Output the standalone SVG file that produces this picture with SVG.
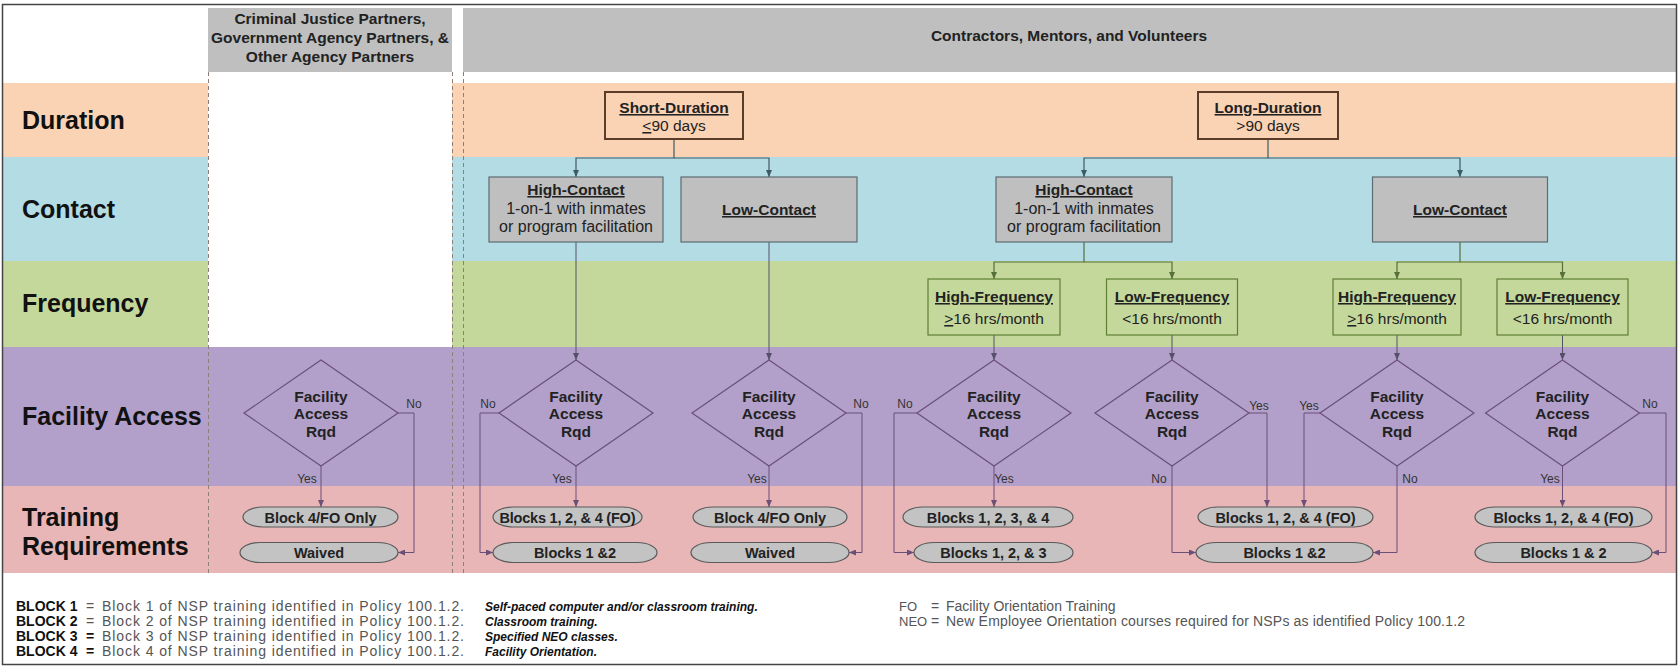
<svg xmlns="http://www.w3.org/2000/svg" width="1679" height="668" viewBox="0 0 1679 668">
<defs>
<marker id="a1" markerUnits="userSpaceOnUse" markerWidth="7" markerHeight="6" refX="7" refY="3" orient="auto"><path d="M0,0 L7,3 L0,6 z" fill="#3e5a64"/></marker>
<marker id="a2" markerUnits="userSpaceOnUse" markerWidth="7" markerHeight="6" refX="7" refY="3" orient="auto"><path d="M0,0 L7,3 L0,6 z" fill="#55703a"/></marker>
<marker id="a3" markerUnits="userSpaceOnUse" markerWidth="7" markerHeight="6" refX="7" refY="3" orient="auto"><path d="M0,0 L7,3 L0,6 z" fill="#55506a"/></marker>
<marker id="a4" markerUnits="userSpaceOnUse" markerWidth="7" markerHeight="6" refX="7" refY="3" orient="auto"><path d="M0,0 L7,3 L0,6 z" fill="#6a4f78"/></marker>
</defs>
<style>
text{font-family:"Liberation Sans",Arial,sans-serif}
.lbl{font-weight:bold;font-size:25px;fill:#111}
.hdr{font-weight:bold;font-size:15.5px;fill:#222;text-anchor:middle}
.nt{font-size:15.5px;fill:#222;text-anchor:middle}
.nr{font-size:16px}
.tt{font-size:14.5px;font-weight:bold;fill:#222;text-anchor:middle}
.b{font-weight:bold}
.u{text-decoration:underline}
.yn{font-size:12px;fill:#333;text-anchor:middle}
.lg{font-size:14px;fill:#555}
.lgs{font-size:13px;fill:#555}
.lgb{font-size:14px;font-weight:bold;fill:#111}
.lgi{font-size:12px;font-weight:bold;font-style:italic;fill:#111}
.dash{stroke:#8c8078;stroke-width:1;stroke-dasharray:4 3;fill:none}
.dur{fill:#FAD3B5;stroke:#5a3c28;stroke-width:2}
.con{fill:#BFBFBF;stroke:#5d6d73;stroke-width:1.2}
.frq{fill:#C4D89B;stroke:#5f7f35;stroke-width:1.2}
.dia{fill:none;stroke:#6a4f78;stroke-width:1.2}
.term{fill:#C3C3C3;stroke:#5a5a5a;stroke-width:1.2}
.c1{stroke:#3e5a64;stroke-width:1.2;fill:none;marker-end:url(#a1)}
.c2{stroke:#55703a;stroke-width:1.2;fill:none;marker-end:url(#a2)}
.c3{stroke:#55506a;stroke-width:1;fill:none;marker-end:url(#a3)}
.c4{stroke:#6a4f78;stroke-width:1;fill:none;marker-end:url(#a4)}
</style>
<rect x="0" y="0" width="1679" height="668" fill="#ffffff"/>
<g id="bands">
<rect x="208" y="8" width="244" height="64" fill="#BFBFBF"/>
<rect x="463" y="8" width="1213" height="64" fill="#BFBFBF"/>
<rect x="3" y="83" width="1673" height="74" fill="#FAD3B5"/>
<rect x="3" y="157" width="1673" height="104" fill="#B4DCE5"/>
<rect x="3" y="261" width="1673" height="86" fill="#C4D89B"/>
<rect x="3" y="347" width="1673" height="139" fill="#B2A0CA"/>
<rect x="3" y="486" width="1673" height="87" fill="#E8B6B6"/>
<rect x="208" y="83" width="244" height="264" fill="#ffffff"/>
<line x1="208.5" y1="72" x2="208.5" y2="573" class="dash"/>
<line x1="452.5" y1="72" x2="452.5" y2="573" class="dash"/>
<line x1="463.5" y1="72" x2="463.5" y2="573" class="dash"/>
<rect x="2.5" y="4.5" width="1674" height="660" fill="none" stroke="#444" stroke-width="1.5"/>
</g>
<g id="headers">
<text class="hdr" x="330" y="24">Criminal Justice Partners,</text>
<text class="hdr" x="330" y="43">Government Agency Partners, &amp;</text>
<text class="hdr" x="330" y="62">Other Agency Partners</text>
<text class="hdr" x="1069" y="41">Contractors, Mentors, and Volunteers</text>
</g>
<g id="row-labels">
<text class="lbl" x="22" y="129">Duration</text>
<text class="lbl" x="22" y="218">Contact</text>
<text class="lbl" x="22" y="312">Frequency</text>
<text class="lbl" x="22" y="425">Facility Access</text>
<text class="lbl" x="22" y="526">Training</text>
<text class="lbl" x="22" y="555">Requirements</text>
</g>
<g id="connectors">
<path class="c1" d="M674,139 V158 H576 V177"/>
<path class="c1" d="M674,158 H769 V177"/>
<path class="c1" d="M1268,139 V158 H1084 V177"/>
<path class="c1" d="M1268,158 H1460 V177"/>
<path class="c2" d="M1084,242 V262 H994 V279"/>
<path class="c2" d="M1084,262 H1172 V279"/>
<path class="c2" d="M1460,242 V262 H1397 V279"/>
<path class="c2" d="M1460,262 H1562.5 V279"/>
<path class="c3" d="M576,242 V360"/>
<path class="c3" d="M769,242 V360"/>
<path class="c3" d="M994,335 V360"/>
<path class="c3" d="M1172,335 V360"/>
<path class="c3" d="M1397,335 V360"/>
<path class="c3" d="M1562.5,335 V360"/>
<path class="c4" d="M321,466 V507"/>
<path class="c4" d="M398,413 H414 V552.5 H398"/>
<path class="c4" d="M576,466 V507"/>
<path class="c4" d="M499,413 H480 V552.5 H493"/>
<path class="c4" d="M769,466 V507"/>
<path class="c4" d="M846,413 H862 V552.5 H849"/>
<path class="c4" d="M994,466 V507"/>
<path class="c4" d="M917,413 H894 V552.5 H914"/>
<path class="c4" d="M1249,413 H1267 V507"/>
<path class="c4" d="M1172,466 V552.5 H1196"/>
<path class="c4" d="M1320,413 H1304 V507"/>
<path class="c4" d="M1397,466 V552.5 H1373"/>
<path class="c4" d="M1562.5,466 V507"/>
<path class="c4" d="M1639.5,413 H1666 V552.5 H1652"/>
<text class="yn" x="414" y="408">No</text>
<text class="yn" x="307" y="483">Yes</text>
<text class="yn" x="488" y="408">No</text>
<text class="yn" x="562" y="483">Yes</text>
<text class="yn" x="861" y="408">No</text>
<text class="yn" x="757" y="483">Yes</text>
<text class="yn" x="905" y="408">No</text>
<text class="yn" x="1004" y="483">Yes</text>
<text class="yn" x="1259" y="410">Yes</text>
<text class="yn" x="1159" y="483">No</text>
<text class="yn" x="1309" y="410">Yes</text>
<text class="yn" x="1410" y="483">No</text>
<text class="yn" x="1650" y="408">No</text>
<text class="yn" x="1550" y="483">Yes</text>
</g>
<g id="short-duration"><rect class="dur" x="605" y="92" width="138" height="47"/><text class="nt b u" x="674" y="113">Short-Duration</text><text class="nt" x="674" y="131"><tspan class="u">&lt;</tspan>90 days</text></g>
<g id="long-duration"><rect class="dur" x="1198" y="92" width="140" height="47"/><text class="nt b u" x="1268" y="113">Long-Duration</text><text class="nt" x="1268" y="131">&gt;90 days</text></g>
<g id="short-high-contact"><rect class="con" x="489" y="177" width="174" height="65"/><text class="nt b u" x="576" y="195">High-Contact</text><text class="nt nr" x="576" y="214">1-on-1 with inmates</text><text class="nt nr" x="576" y="232">or program facilitation</text></g>
<g id="short-low-contact"><rect class="con" x="681" y="177" width="176" height="65"/><text class="nt b u" x="769" y="215">Low-Contact</text></g>
<g id="long-high-contact"><rect class="con" x="996" y="177" width="176" height="65"/><text class="nt b u" x="1084" y="195">High-Contact</text><text class="nt nr" x="1084" y="214">1-on-1 with inmates</text><text class="nt nr" x="1084" y="232">or program facilitation</text></g>
<g id="long-low-contact"><rect class="con" x="1372.5" y="177" width="175" height="65"/><text class="nt b u" x="1460" y="215">Low-Contact</text></g>
<g id="hf-1"><rect class="frq" x="928" y="279" width="132" height="56"/><text class="nt b u" x="994" y="302">High-Frequency</text><text class="nt" x="994" y="324"><tspan class="u">&gt;</tspan>16 hrs/month</text></g>
<g id="lf-1"><rect class="frq" x="1106.5" y="279" width="131" height="56"/><text class="nt b u" x="1172" y="302">Low-Frequency</text><text class="nt" x="1172" y="324">&lt;16 hrs/month</text></g>
<g id="hf-2"><rect class="frq" x="1333" y="279" width="128" height="56"/><text class="nt b u" x="1397" y="302">High-Frequency</text><text class="nt" x="1397" y="324"><tspan class="u">&gt;</tspan>16 hrs/month</text></g>
<g id="lf-2"><rect class="frq" x="1497" y="279" width="131" height="56"/><text class="nt b u" x="1562.5" y="302">Low-Frequency</text><text class="nt" x="1562.5" y="324">&lt;16 hrs/month</text></g>
<g id="d1"><polygon class="dia" points="244,413 321,360 398,413 321,466"/><text class="nt b" x="321" y="402">Facility</text><text class="nt b" x="321" y="419">Access</text><text class="nt b" x="321" y="437">Rqd</text></g>
<g id="d2"><polygon class="dia" points="499,413 576,360 653,413 576,466"/><text class="nt b" x="576" y="402">Facility</text><text class="nt b" x="576" y="419">Access</text><text class="nt b" x="576" y="437">Rqd</text></g>
<g id="d3"><polygon class="dia" points="692,413 769,360 846,413 769,466"/><text class="nt b" x="769" y="402">Facility</text><text class="nt b" x="769" y="419">Access</text><text class="nt b" x="769" y="437">Rqd</text></g>
<g id="d4"><polygon class="dia" points="917,413 994,360 1071,413 994,466"/><text class="nt b" x="994" y="402">Facility</text><text class="nt b" x="994" y="419">Access</text><text class="nt b" x="994" y="437">Rqd</text></g>
<g id="d5"><polygon class="dia" points="1095,413 1172,360 1249,413 1172,466"/><text class="nt b" x="1172" y="402">Facility</text><text class="nt b" x="1172" y="419">Access</text><text class="nt b" x="1172" y="437">Rqd</text></g>
<g id="d6"><polygon class="dia" points="1320,413 1397,360 1474,413 1397,466"/><text class="nt b" x="1397" y="402">Facility</text><text class="nt b" x="1397" y="419">Access</text><text class="nt b" x="1397" y="437">Rqd</text></g>
<g id="d7"><polygon class="dia" points="1485.5,413 1562.5,360 1639.5,413 1562.5,466"/><text class="nt b" x="1562.5" y="402">Facility</text><text class="nt b" x="1562.5" y="419">Access</text><text class="nt b" x="1562.5" y="437">Rqd</text></g>
<g id="t1a"><rect class="term" x="243" y="507" width="155" height="20" rx="20" ry="10"/><text class="tt" x="320.5" y="522.5">Block 4/FO Only</text></g>
<g id="t1b"><rect class="term" x="240" y="542.5" width="158" height="20" rx="20" ry="10"/><text class="tt" x="319" y="558">Waived</text></g>
<g id="t2a"><rect class="term" x="493" y="507" width="149" height="20" rx="20" ry="10"/><text class="tt" x="567.5" y="522.5" textLength="136">Blocks 1, 2, &amp; 4 (FO)</text></g>
<g id="t2b"><rect class="term" x="493" y="542.5" width="164" height="20" rx="20" ry="10"/><text class="tt" x="575" y="558">Blocks 1 &amp;2</text></g>
<g id="t3a"><rect class="term" x="693" y="507" width="154" height="20" rx="20" ry="10"/><text class="tt" x="770" y="522.5">Block 4/FO Only</text></g>
<g id="t3b"><rect class="term" x="691" y="542.5" width="158" height="20" rx="20" ry="10"/><text class="tt" x="770" y="558">Waived</text></g>
<g id="t4a"><rect class="term" x="903" y="507" width="170" height="20" rx="20" ry="10"/><text class="tt" x="988" y="522.5">Blocks 1, 2, 3, &amp; 4</text></g>
<g id="t4b"><rect class="term" x="914" y="542.5" width="159" height="20" rx="20" ry="10"/><text class="tt" x="993.5" y="558">Blocks 1, 2, &amp; 3</text></g>
<g id="t5a"><rect class="term" x="1198" y="507" width="175" height="20" rx="20" ry="10"/><text class="tt" x="1285.5" y="522.5">Blocks 1, 2, &amp; 4 (FO)</text></g>
<g id="t5b"><rect class="term" x="1196" y="542.5" width="177" height="20" rx="20" ry="10"/><text class="tt" x="1284.5" y="558">Blocks 1 &amp;2</text></g>
<g id="t7a"><rect class="term" x="1475" y="507" width="177" height="20" rx="20" ry="10"/><text class="tt" x="1563.5" y="522.5">Blocks 1, 2, &amp; 4 (FO)</text></g>
<g id="t7b"><rect class="term" x="1475" y="542.5" width="177" height="20" rx="20" ry="10"/><text class="tt" x="1563.5" y="558">Blocks 1 &amp; 2</text></g>
<g id="legend">
<text class="lgb" x="16" y="611">BLOCK 1</text><text class="lg" x="86" y="611">=</text><text class="lg" x="102" y="611" textLength="362">Block 1 of NSP training identified in Policy 100.1.2.</text><text class="lgi" x="485" y="611">Self-paced computer and/or classroom training.</text>
<text class="lgb" x="16" y="626">BLOCK 2</text><text class="lg" x="86" y="626">=</text><text class="lg" x="102" y="626" textLength="362">Block 2 of NSP training identified in Policy 100.1.2.</text><text class="lgi" x="485" y="626">Classroom training.</text>
<text class="lgb" x="16" y="641">BLOCK 3</text><text class="lgb" x="86" y="641">=</text><text class="lg" x="102" y="641" textLength="362">Block 3 of NSP training identified in Policy 100.1.2.</text><text class="lgi" x="485" y="641">Specified NEO classes.</text>
<text class="lgb" x="16" y="656">BLOCK 4</text><text class="lgb" x="86" y="656">=</text><text class="lg" x="102" y="656" textLength="362">Block 4 of NSP training identified in Policy 100.1.2.</text><text class="lgi" x="485" y="656">Facility Orientation.</text>
<text class="lgs" x="899" y="611">FO</text><text class="lg" x="931" y="611">=</text><text class="lg" x="946" y="611">Facility Orientation Training</text>
<text class="lgs" x="899" y="626">NEO</text><text class="lg" x="931" y="626">=</text><text class="lg" x="946" y="626" textLength="519">New Employee Orientation courses required for NSPs as identified Policy 100.1.2</text>
</g>
</svg>
